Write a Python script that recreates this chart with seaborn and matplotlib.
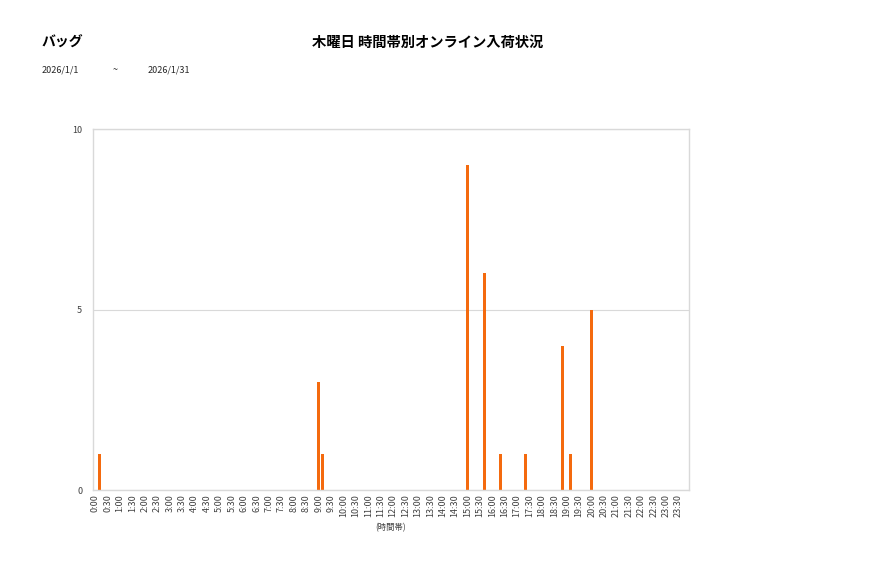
#!/usr/bin/env python3

import matplotlib
matplotlib.use("Agg")
import matplotlib.pyplot as plt
import pandas as pd
import seaborn as sns

# arrivals per 10-minute slot (only non-empty slots listed)
arrival_slots = ["0:10", "9:00", "9:10", "15:00", "15:40", "16:20", "17:20", "18:50", "19:10", "20:00"]
arrival_counts = [1, 3, 1, 9, 6, 1, 1, 4, 1, 5]

category = "バッグ"
title = "木曜日 時間帯別オンライン入荷状況"
date_from = "2026/1/1"
date_to = "2026/1/31"
x_label = "(時間帯)"
y_ticks = [0, 5, 10]

bar_color = "#f46a0e"
grid_color = "#d9d9d9"
text_color = "#404040"


def main():
    slots = [f"{h}:{m:02d}" for h in range(24) for m in range(0, 60, 10)]
    counts = dict(zip(arrival_slots, arrival_counts))
    df = pd.DataFrame({"slot": slots, "n": [counts.get(s, 0) for s in slots]})

    sns.set_theme(style="white")
    plt.rcParams["font.family"] = ["Noto Sans CJK JP", "DejaVu Sans"]

    fig = plt.figure(figsize=(8.77, 5.78), dpi=100)
    ax = fig.add_axes([0.1064, 0.1522, 0.679, 0.6246])

    sns.barplot(data=df, x="slot", y="n", order=slots, color=bar_color,
                saturation=1, width=0.75, linewidth=0, edgecolor=bar_color, ax=ax)

    ax.set_xlim(-0.5, len(slots) - 0.5)
    ax.set_ylim(0, 10)
    ax.set_yticks(y_ticks)
    ax.set_yticklabels([str(v) for v in y_ticks], fontsize=6.5, color=text_color)
    tick_pos = list(range(0, len(slots), 3))
    ax.set_xticks(tick_pos)
    ax.set_xticklabels([slots[i] for i in tick_pos], rotation=90, fontsize=6.5, color=text_color)
    ax.tick_params(axis="both", length=0, pad=3)
    ax.tick_params(axis="y", pad=8)

    ax.set_xlabel(x_label, fontsize=6, color=text_color, labelpad=4)
    ax.set_ylabel("")
    ax.yaxis.grid(True, color=grid_color, linewidth=0.8)
    ax.set_axisbelow(True)
    for sp in ax.spines.values():
        sp.set_color(grid_color)
        sp.set_linewidth(1)

    fig.text(42 / 877, 1 - 43 / 578, category, fontsize=10, fontweight="bold",
             va="center", ha="left", color="#000000")
    fig.text(428 / 877, 1 - 43 / 578, title, fontsize=10.3, fontweight="bold",
             va="center", ha="center", color="#000000")
    fig.text(42 / 877, 1 - 70 / 578, date_from, fontsize=6.5, va="center", ha="left")
    fig.text(113 / 877, 1 - 70 / 578, "~", fontsize=6.5, va="center", ha="left")
    fig.text(148 / 877, 1 - 70 / 578, date_to, fontsize=6.5, va="center", ha="left")

    fig.savefig("out.png", dpi=100)


if __name__ == "__main__":
    main()
